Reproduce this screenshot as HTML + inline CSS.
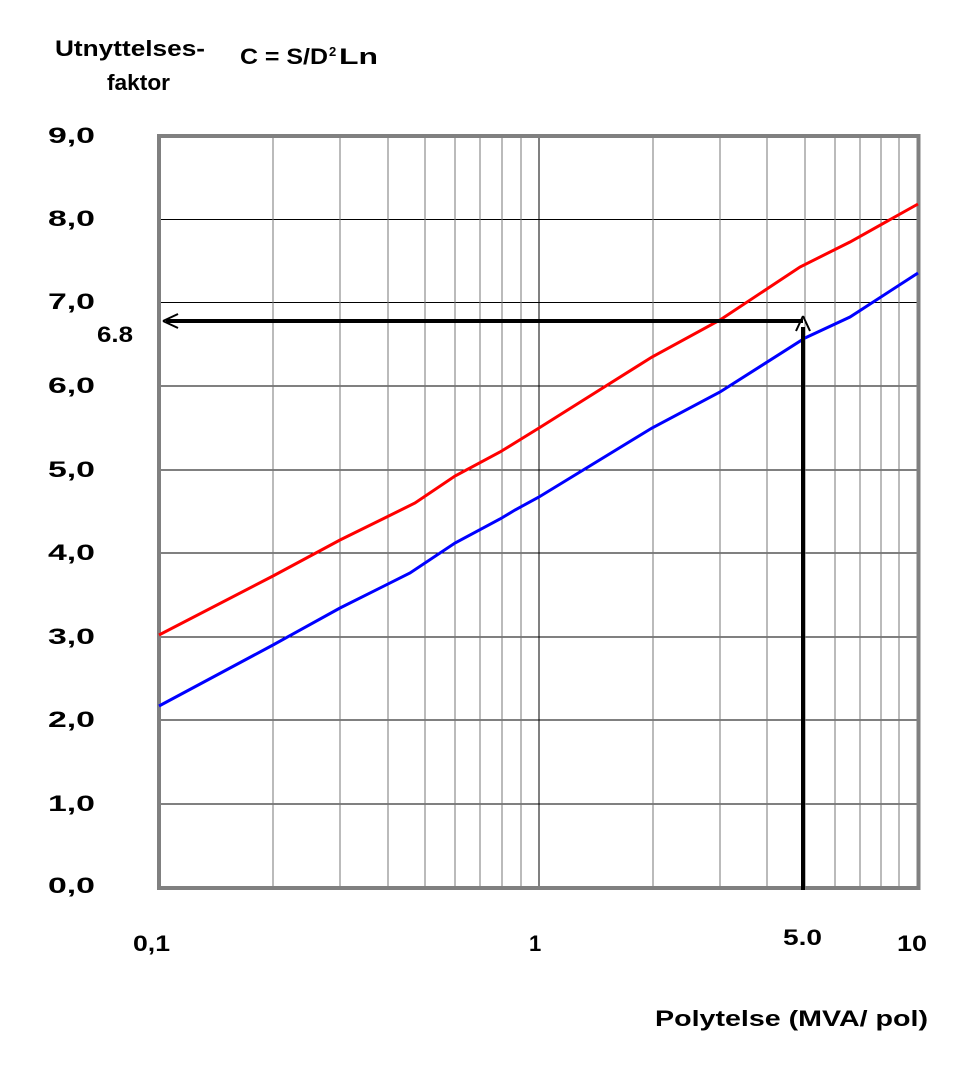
<!DOCTYPE html>
<html><head><style>body{margin:0;background:#fff}</style></head><body>
<svg width="972" height="1061" xmlns="http://www.w3.org/2000/svg" font-family="Liberation Sans, sans-serif" font-weight="bold">
<rect width="972" height="1061" fill="#fff"/>
<g stroke="#000" stroke-width="1">
<line x1="159" x2="918" y1="219.5" y2="219.5"/>
<line x1="159" x2="918" y1="302.5" y2="302.5"/>
<line x1="159" x2="918" y1="386" y2="386"/>
<line x1="159" x2="918" y1="470" y2="470"/>
<line x1="159" x2="918" y1="553" y2="553"/>
<line x1="159" x2="918" y1="637" y2="637"/>
<line x1="159" x2="918" y1="720" y2="720"/>
<line x1="159" x2="918" y1="804" y2="804"/>
</g>
<g stroke="#777" stroke-width="1">
<line x1="273" x2="273" y1="136" y2="888"/><line x1="340" x2="340" y1="136" y2="888"/><line x1="388" x2="388" y1="136" y2="888"/><line x1="425" x2="425" y1="136" y2="888"/><line x1="455" x2="455" y1="136" y2="888"/><line x1="480" x2="480" y1="136" y2="888"/><line x1="502" x2="502" y1="136" y2="888"/><line x1="521" x2="521" y1="136" y2="888"/>
<line x1="653" x2="653" y1="136" y2="888"/><line x1="720" x2="720" y1="136" y2="888"/><line x1="767" x2="767" y1="136" y2="888"/><line x1="805" x2="805" y1="136" y2="888"/><line x1="835" x2="835" y1="136" y2="888"/><line x1="860" x2="860" y1="136" y2="888"/><line x1="881" x2="881" y1="136" y2="888"/><line x1="899" x2="899" y1="136" y2="888"/>
</g>
<line x1="539" x2="539" y1="136" y2="888" stroke="#000"/>
<rect x="159" y="136" width="759.5" height="752" fill="none" stroke="#808080" stroke-width="4"/>
<polyline fill="none" stroke="#f00" stroke-width="3" points="159,635 273,576 340,540 415,503 455,476 500,452 539,428 652,357 720,320 800,267 850,242 918,204"/>
<polyline fill="none" stroke="#00f" stroke-width="3" points="159,706 273,645 340,608 410,573 455,543 500,519 515,510 539,497 652,428 720,392 805,338 850,317 918,273"/>
<g stroke="#000" stroke-width="4" fill="none">
<line x1="803" y1="321" x2="166" y2="321"/>
<line x1="803" y1="890" x2="803" y2="327"/>
</g>
<path d="M163,321 L178,314 M163,321 L178,328" stroke="#000" stroke-width="2" fill="none"/>
<path d="M803,316 L796,331 M803,316 L810,331" stroke="#000" stroke-width="2" fill="none"/>
<g font-size="22" fill="#000">
<text x="48" y="143" textLength="47" lengthAdjust="spacingAndGlyphs">9,0</text><text x="48" y="226" textLength="47" lengthAdjust="spacingAndGlyphs">8,0</text><text x="48" y="309" textLength="47" lengthAdjust="spacingAndGlyphs">7,0</text>
<text x="48" y="393" textLength="47" lengthAdjust="spacingAndGlyphs">6,0</text><text x="48" y="477" textLength="47" lengthAdjust="spacingAndGlyphs">5,0</text><text x="48" y="560" textLength="47" lengthAdjust="spacingAndGlyphs">4,0</text>
<text x="48" y="644" textLength="47" lengthAdjust="spacingAndGlyphs">3,0</text><text x="48" y="727" textLength="47" lengthAdjust="spacingAndGlyphs">2,0</text><text x="48" y="811" textLength="47" lengthAdjust="spacingAndGlyphs">1,0</text>
<text x="48" y="893" textLength="47" lengthAdjust="spacingAndGlyphs">0,0</text><text x="97" y="342" textLength="36" lengthAdjust="spacingAndGlyphs">6.8</text>
<text x="133" y="951" textLength="37" lengthAdjust="spacingAndGlyphs">0,1</text><text x="529" y="951">1</text><text x="783" y="945" textLength="39" lengthAdjust="spacingAndGlyphs">5.0</text><text x="897" y="951" textLength="30" lengthAdjust="spacingAndGlyphs">10</text>
<text x="655" y="1026" textLength="273" lengthAdjust="spacingAndGlyphs">Polytelse (MVA/ pol)</text>
<text x="55" y="56" textLength="150" lengthAdjust="spacingAndGlyphs">Utnyttelses-</text>
<text x="107" y="90" textLength="63" lengthAdjust="spacingAndGlyphs">faktor</text>
<text x="240" y="64" textLength="88" lengthAdjust="spacingAndGlyphs">C = S/D</text><text x="329" y="56" font-size="13">2</text><text x="339" y="64" textLength="39" lengthAdjust="spacingAndGlyphs">Ln</text>
</g>
</svg>
</body></html>
